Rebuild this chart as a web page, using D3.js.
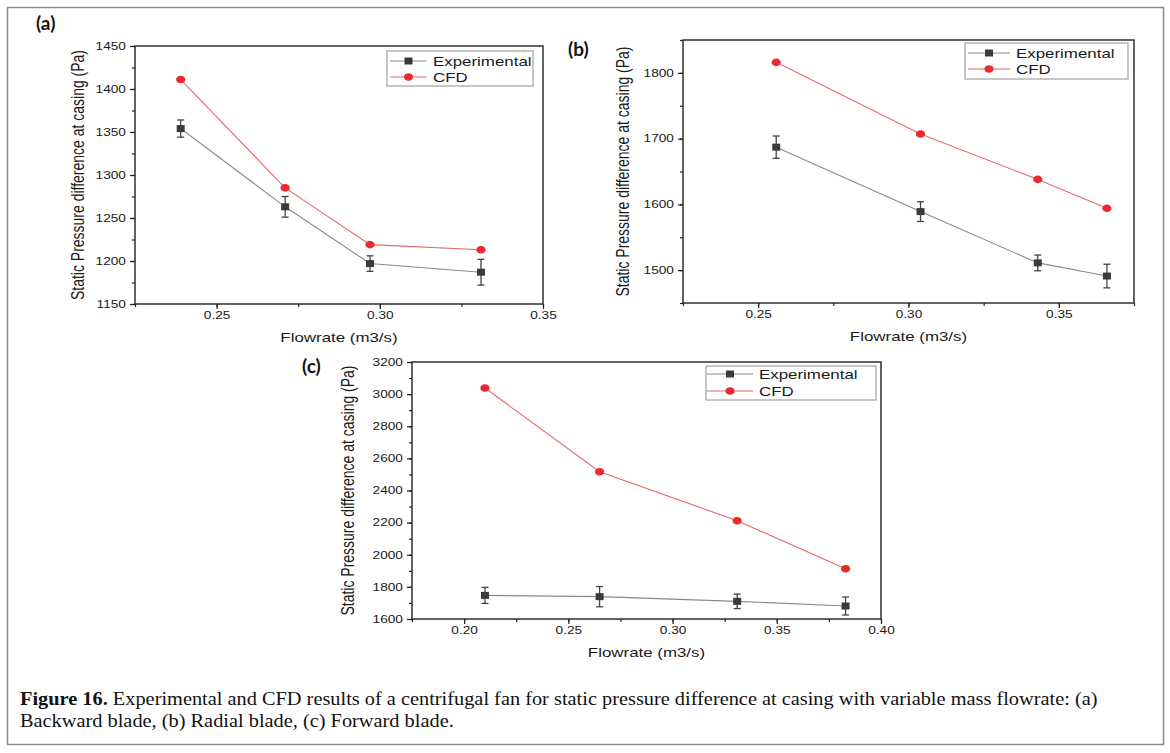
<!DOCTYPE html>
<html>
<head>
<meta charset="utf-8">
<script src="https://cdn.jsdelivr.net/npm/d3@7"></script>
<style>
  body { margin: 0; background: #fff; }
  svg { display: block; }
</style>
</head>
<body>
<div id="chart"></div>
<script>
// values
var series = ["Experimental", "CFD"];
var panelLabels = ["(a)", "(b)", "(c)"];

var flowA = [0.239, 0.271, 0.297, 0.331];
var expA = [1354, 1263, 1197, 1187];
var errA = [10, 12, 9, 15];
var cfdA = [1411, 1285, 1219, 1213];

var flowB = [0.256, 0.304, 0.343, 0.366];
var expB = [1687, 1589, 1511, 1491];
var errB = [17, 15, 12, 18];
var cfdB = [1816, 1707, 1638, 1594];

var flowC = [0.210, 0.265, 0.331, 0.383];
var expC = [1747, 1739, 1710, 1681];
var errC = [50, 63, 45, 56];
var cfdC = [3038, 2517, 2212, 1913];

var xTicksAB = [0.25, 0.30, 0.35];
var xTicksC = [0.20, 0.25, 0.30, 0.35, 0.40];
var yTicksA = [1150, 1200, 1250, 1300, 1350, 1400, 1450];
var yTicksB = [1500, 1600, 1700, 1800];
var yTicksC = [1600, 1800, 2000, 2200, 2400, 2600, 2800, 3000, 3200];

var xTitle = "Flowrate (m3/s)";
var yTitle = "Static Pressure difference at casing (Pa)";
var captionBold = "Figure 16.";
var captionLine1 = " Experimental and CFD results of a centrifugal fan for static pressure difference at casing with variable mass flowrate: (a)";
var captionLine2 = "Backward blade, (b) Radial blade, (c) Forward blade.";

var W = 1170, H = 753;
var sx = 1.3; // the figure is stretched sideways
var font = "'Liberation Sans', Arial, sans-serif";

var svg = d3.select("#chart").append("svg")
  .attr("width", W)
  .attr("height", H);

svg.append("rect")
  .attr("x", 7.5).attr("y", 7.5)
  .attr("width", 1156).attr("height", 737)
  .style("fill", "none")
  .style("stroke", "#8c8c8c")
  .style("stroke-width", 1.5);

var panels = [
  { label: panelLabels[0], flow: flowA, exp: expA, err: errA, cfd: cfdA,
    xDom: [0.225, 0.35], yDom: [1150, 1450], xTicks: xTicksAB, yTicks: yTicksA,
    xMinor: 0.025, yMinor: 25, fmtY: "d",
    left: 135, right: 543, top: 46, bottom: 304, yTitleOff: 57,
    labelPos: [36, 30], leg: { x: 387, y: 51, w: 146, h: 35, r1: 61, r2: 77, l0: 390, l1: 427, t: 433 } },
  { label: panelLabels[1], flow: flowB, exp: expB, err: errB, cfd: cfdB,
    xDom: [0.225, 0.375], yDom: [1450, 1850], xTicks: xTicksAB, yTicks: yTicksB,
    xMinor: 0.025, yMinor: 50, fmtY: "d",
    left: 683, right: 1134, top: 40, bottom: 303, yTitleOff: 60,
    labelPos: [568, 56], leg: { x: 965, y: 43, w: 163, h: 36, r1: 53, r2: 69, l0: 968, l1: 1010, t: 1016 } },
  { label: panelLabels[2], flow: flowC, exp: expC, err: errC, cfd: cfdC,
    xDom: [0.175, 0.40], yDom: [1600, 3200], xTicks: xTicksC, yTicks: yTicksC,
    xMinor: 0.025, yMinor: 100, fmtY: "d",
    left: 412, right: 881, top: 362, bottom: 619, yTitleOff: 64,
    labelPos: [302, 373], leg: { x: 706, y: 366, w: 170, h: 34, r1: 374, r2: 391, l0: 707, l1: 753, t: 759 } }
];

panels.forEach(drawPanel);

function range(a, b, step) {
  var out = [];
  var n = Math.round((b - a) / step);
  for (var i = 0; i <= n; i++) out.push(+(a + i * step).toFixed(6));
  return out;
}

function drawPanel(p) {
  var x = d3.scaleLinear().domain(p.xDom).range([p.left, p.right]);
  var y = d3.scaleLinear().domain(p.yDom).range([p.bottom, p.top]);
  var g = svg.append("g");

  // minor ticks
  g.append("g")
    .attr("transform", "translate(0," + p.bottom + ")")
    .call(d3.axisBottom(x).tickValues(range(p.xDom[0], p.xDom[1], p.xMinor)).tickSize(3).tickFormat(""))
    .call(function (a) { a.select(".domain").remove(); });
  g.append("g")
    .attr("transform", "translate(" + p.left + ",0)")
    .call(d3.axisLeft(y).tickValues(range(p.yDom[0], p.yDom[1], p.yMinor)).tickSize(3).tickFormat(""))
    .call(function (a) { a.select(".domain").remove(); });

  // major ticks
  var xa = g.append("g")
    .attr("transform", "translate(0," + p.bottom + ")")
    .call(d3.axisBottom(x).tickValues(p.xTicks).tickSize(5).tickPadding(3).tickFormat(d3.format(".2f")));
  var ya = g.append("g")
    .attr("transform", "translate(" + p.left + ",0)")
    .call(d3.axisLeft(y).tickValues(p.yTicks).tickSize(5).tickPadding(2).tickFormat(d3.format(p.fmtY)));

  [xa, ya].forEach(function (a) {
    a.select(".domain").remove();
    a.selectAll("text")
      .style("font-family", font)
      .style("font-size", "10.5px")
      .style("fill", "#1a1a1a")
      .attr("transform", "scale(" + sx + ",1)");
  });
  g.selectAll(".tick line").style("stroke", "#222").style("stroke-width", 1.2);

  // plot frame
  g.append("rect")
    .attr("x", p.left).attr("y", p.top)
    .attr("width", p.right - p.left).attr("height", p.bottom - p.top)
    .style("fill", "none")
    .style("stroke", "#222")
    .style("stroke-width", 1.4);

  // axis titles
  g.append("text")
    .attr("transform", "translate(" + ((p.left + p.right) / 2) + "," + (p.bottom + 38) + ") scale(" + sx + ",1)")
    .attr("text-anchor", "middle")
    .style("font-family", font)
    .style("font-size", "13px")
    .style("fill", "#1a1a1a")
    .text(xTitle);
  g.append("text")
    .attr("transform", "translate(" + (p.left - p.yTitleOff) + "," + ((p.top + p.bottom) / 2) + ") scale(" + sx + ",1) rotate(-90)")
    .attr("text-anchor", "middle")
    .attr("dy", "0.35em")
    .style("font-family", font)
    .style("font-size", "14px")
    .style("fill", "#1a1a1a")
    .text(yTitle);

  // panel label
  g.append("text")
    .attr("x", p.labelPos[0]).attr("y", p.labelPos[1])
    .style("font-family", "Lato, 'Open Sans', sans-serif")
    .style("font-weight", "bold")
    .style("font-size", "19px")
    .style("fill", "#111")
    .text(p.label);

  var pts = p.flow.map(function (f, i) {
    return { f: f, e: p.exp[i], err: p.err[i], c: p.cfd[i] };
  });

  var lineExp = d3.line().x(function (d) { return x(d.f); }).y(function (d) { return y(d.e); });
  var lineCfd = d3.line().x(function (d) { return x(d.f); }).y(function (d) { return y(d.c); });

  g.append("path").datum(pts).attr("d", lineExp)
    .style("fill", "none").style("stroke", "#8a8a8a").style("stroke-width", 1.1);
  g.append("path").datum(pts).attr("d", lineCfd)
    .style("fill", "none").style("stroke", "#e8686a").style("stroke-width", 1.1);

  // error bars
  var eb = g.selectAll(".eb").data(pts).enter().append("g");
  eb.append("line")
    .attr("x1", function (d) { return x(d.f); }).attr("x2", function (d) { return x(d.f); })
    .attr("y1", function (d) { return y(d.e - d.err); }).attr("y2", function (d) { return y(d.e + d.err); })
    .style("stroke", "#444").style("stroke-width", 1.3);
  [-1, 1].forEach(function (s) {
    eb.append("line")
      .attr("x1", function (d) { return x(d.f) - 3.5; }).attr("x2", function (d) { return x(d.f) + 3.5; })
      .attr("y1", function (d) { return y(d.e + s * d.err); }).attr("y2", function (d) { return y(d.e + s * d.err); })
      .style("stroke", "#444").style("stroke-width", 1.3);
  });

  g.selectAll(".sq").data(pts).enter().append("rect")
    .attr("x", function (d) { return x(d.f) - 4; })
    .attr("y", function (d) { return y(d.e) - 3.5; })
    .attr("width", 8).attr("height", 7)
    .style("fill", "#3a3a3a");

  g.selectAll(".dot").data(pts).enter().append("ellipse")
    .attr("cx", function (d) { return x(d.f); })
    .attr("cy", function (d) { return y(d.c); })
    .attr("rx", 4.6).attr("ry", 3.8)
    .style("fill", "#ea2a2e");

  // legend
  var L = p.leg;
  g.append("rect")
    .attr("x", L.x).attr("y", L.y).attr("width", L.w).attr("height", L.h)
    .style("fill", "#fff").style("stroke", "#a0a0a0").style("stroke-width", 1.2);
  var rows = [
    { name: series[0], y: L.r1, line: "#8a8a8a", mark: "sq" },
    { name: series[1], y: L.r2, line: "#e8686a", mark: "dot" }
  ];
  rows.forEach(function (r) {
    g.append("line")
      .attr("x1", L.l0).attr("x2", L.l1).attr("y1", r.y).attr("y2", r.y)
      .style("stroke", r.line).style("stroke-width", 1.1);
    var mx = (L.l0 + L.l1) / 2;
    if (r.mark === "sq") {
      g.append("rect").attr("x", mx - 4).attr("y", r.y - 3.5).attr("width", 8).attr("height", 7)
        .style("fill", "#3a3a3a");
    } else {
      g.append("ellipse").attr("cx", mx).attr("cy", r.y).attr("rx", 4.6).attr("ry", 3.8)
        .style("fill", "#ea2a2e");
    }
    g.append("text")
      .attr("transform", "translate(" + L.t + "," + r.y + ") scale(" + sx + ",1)")
      .attr("dy", "0.36em")
      .style("font-family", font)
      .style("font-size", "13px")
      .style("fill", "#1a1a1a")
      .text(r.name);
  });
}

// caption, squeezed sideways to the width it has in the figure
var serif = "'Liberation Serif', 'Times New Roman', serif";
var capG = svg.append("g");
var cap1 = capG.append("text")
  .attr("x", 0).attr("y", 0)
  .style("font-family", serif)
  .style("font-size", "18.5px")
  .style("fill", "#111");
cap1.append("tspan").style("font-weight", "bold").text(captionBold);
cap1.append("tspan").text(captionLine1);
capG.append("text")
  .attr("x", 0).attr("y", 22)
  .style("font-family", serif)
  .style("font-size", "18.5px")
  .style("fill", "#111")
  .text(captionLine2);

var w1 = cap1.node().getComputedTextLength();
capG.attr("transform", "translate(20,705) scale(" + (1078 / w1) + ",1)");
</script>
</body>
</html>
